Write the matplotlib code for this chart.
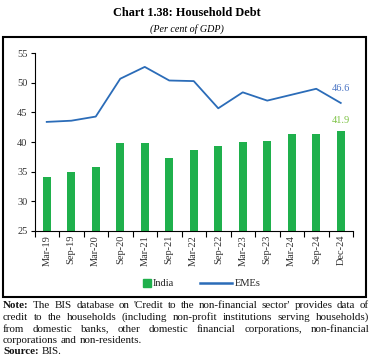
import matplotlib
matplotlib.use("Agg")
import matplotlib.pyplot as plt
from matplotlib.patches import Rectangle
from matplotlib.lines import Line2D
import numpy as np

categories = ["Mar-19", "Sep-19", "Mar-20", "Sep-20", "Mar-21", "Sep-21", "Mar-22",
              "Sep-22", "Mar-23", "Sep-23", "Mar-24", "Sep-24", "Dec-24"]
india = [34.0, 34.9, 35.7, 39.8, 39.9, 37.3, 38.7, 39.3, 40.0, 40.2, 41.3, 41.3, 41.9]
emes = [43.4, 43.6, 44.3, 50.7, 52.7, 50.4, 50.3, 45.7, 48.4, 47.0, 48.0, 49.0, 46.6]
yticks = [25, 30, 35, 40, 45, 50, 55]
series_names = ["India", "EMEs"]

W, H = 373, 364
fig = plt.figure(figsize=(W / 100, H / 100), dpi=100)
serif = ["Liberation Serif", "DejaVu Serif"]

def fx(px):
    return px / W

def fy(py):
    return 1 - py / H

# Title
fig.text(0.5, fy(13), "Chart 1.38: Household Debt", ha="center", va="center",
         fontsize=8.8, fontweight="bold", family=serif)
fig.text(0.5, fy(29), "(Per cent of GDP)", ha="center", va="center",
         fontsize=7.2, style="italic", family=serif)

# Box
fig.patches.append(Rectangle((fx(3.5), fy(296.5)), fx(366) - fx(3.5), fy(36.5) - fy(296.5),
                             transform=fig.transFigure, fill=False, edgecolor="black",
                             linewidth=1.5))

ax = fig.add_axes([fx(34.5), fy(230.7), fx(353) - fx(34.5), fy(53.3) - fy(230.7)])
x = np.arange(len(categories))
green = "#1fb04c"
blue = "#2b6cb8"
ax.bar(x, india, width=0.32, color=green, zorder=2)
ax.plot(x, emes, color=blue, linewidth=1.3, zorder=3)
ax.set_xlim(-0.5, len(categories) - 0.5)
ax.set_ylim(25, 55)
ax.set_yticks(yticks)
ax.set_yticklabels([str(v) for v in yticks], family=serif, fontsize=7.5, color="#333333")
ax.set_xticks(x)
ax.set_xticklabels(categories, rotation=90, family=serif, fontsize=7.5, color="#333333")
ax.tick_params(axis="x", length=0, pad=3)
ax.set_xticks(np.arange(-0.5, len(categories), 1), minor=True)
ax.tick_params(axis="x", which="minor", length=4, width=0.8, direction="out")
ax.tick_params(axis="y", length=3, width=0.8, pad=2)
for s in ["top", "right"]:
    ax.spines[s].set_visible(False)
for s in ["left", "bottom"]:
    ax.spines[s].set_linewidth(0.8)

ax.annotate(f"{emes[-1]:.1f}", (x[-1], emes[-1]), xytext=(0, 7), textcoords="offset points",
            ha="center", va="bottom", fontsize=7.5, family=serif, color="#4a74c4")
ax.annotate(f"{india[-1]:.1f}", (x[-1], india[-1]), xytext=(0, 4), textcoords="offset points",
            ha="center", va="bottom", fontsize=7.5, family=serif, color="#7cc243")

# Legend (manual)
ly = 283
fig.patches.append(Rectangle((fx(143), fy(ly + 4)), fx(8), 8 / H, transform=fig.transFigure,
                             color=green))
fig.text(fx(153), fy(ly), series_names[0], ha="left", va="center", fontsize=7.5,
         family=serif, color="#222222")
fig.lines.append(Line2D([fx(200), fx(232)], [fy(ly), fy(ly)], transform=fig.transFigure,
                        color=blue, linewidth=1.8))
fig.text(fx(235), fy(ly), series_names[1], ha="left", va="center", fontsize=7.5,
         family=serif, color="#222222")

# Note text, justified
note_lines = [
    [("Note:", True), ("The BIS database on 'Credit to the non-financial sector' provides data of", False)],
    [("credit to the households (including non-profit institutions serving households)", False)],
    [("from domestic banks, other domestic financial corporations, non-financial", False)],
    [("corporations and non-residents.", False)],
    [("Source:", True), ("BIS.", False)],
]
justify = [True, True, True, False, False]
ys = [306, 317.5, 329, 340.5, 352]
left_px, right_px = 3, 369
fs = 7.9
fig.canvas.draw()
renderer = fig.canvas.get_renderer()
for line, just, ypx in zip(note_lines, justify, ys):
    words = []
    for seg, bold in line:
        for w in seg.split(" "):
            words.append((w, bold))
    texts = []
    for w, bold in words:
        t = fig.text(fx(left_px), fy(ypx), w, ha="left", va="center", fontsize=fs,
                     family=serif, fontweight="bold" if bold else "normal", color="#111111")
        texts.append(t)
    widths = [t.get_window_extent(renderer).width for t in texts]
    total = sum(widths)
    n = len(texts)
    if just and n > 1:
        gap = (right_px - left_px - total) / (n - 1)
    else:
        gap = fs * 100 / 72 * 0.25
    pos = left_px
    for t, w in zip(texts, widths):
        t.set_x(fx(pos))
        pos += w + gap

fig.savefig("out.png", dpi=100)
